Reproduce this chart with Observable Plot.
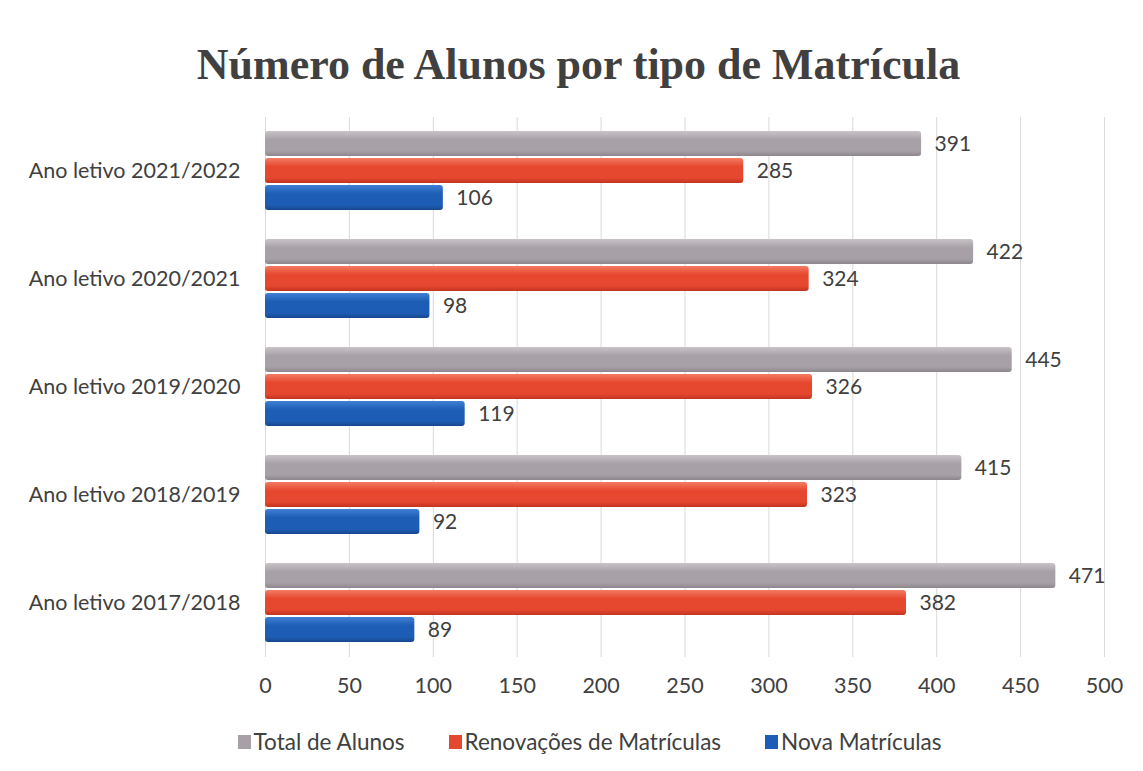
<!DOCTYPE html>
<html>
<head>
<meta charset="utf-8">
<script src="https://cdn.jsdelivr.net/npm/d3@7"></script>
<script src="https://cdn.jsdelivr.net/npm/@observablehq/plot@0.6"></script>
<style>
  html, body { margin: 0; padding: 0; background: #ffffff; }
  #wrap { width: 1143px; height: 771px; position: relative; overflow: hidden; }
  #title { height: 100px; box-sizing: border-box; padding-top: 43px; text-align: center; padding-left: 14px;
    font-family: "Liberation Serif", serif; font-weight: bold; font-size: 44px; line-height: 44px; color: #404040; }
  #legend { display: flex; justify-content: center; gap: 44px; padding-top: 18px; padding-left: 36px;
    font-family: Lato, sans-serif; font-size: 22.5px; color: #404040; }
  #legend span.item { display: flex; align-items: center; }
  #legend span.sw { display: inline-block; width: 13px; height: 14px; margin-right: 3px; }
</style>
</head>
<body>
<div id="wrap">
  <div id="title">Número de Alunos por tipo de Matrícula</div>
  <div id="chart"></div>
  <div id="legend"></div>
</div>
<script>
const categories = ["Ano letivo 2021/2022", "Ano letivo 2020/2021", "Ano letivo 2019/2020", "Ano letivo 2018/2019", "Ano letivo 2017/2018"];
const seriesNames = ["Total de Alunos", "Renovações de Matrículas", "Nova Matrículas"];
const totalAlunos = [391, 422, 445, 415, 471];
const renovacoes = [285, 324, 326, 323, 382];
const novas = [106, 98, 119, 92, 89];
const xTicks = [0, 50, 100, 150, 200, 250, 300, 350, 400, 450, 500];
const seriesColors = ["#a7a0a6", "#e6472f", "#1e5db5"];
const gradIds = ["gGray", "gRed", "gBlue"];

const seriesValues = [totalAlunos, renovacoes, novas];
const rows = [];
categories.forEach((c, i) => {
  seriesNames.forEach((s, j) => rows.push({category: c, series: s, value: seriesValues[j][i]}));
});

const marks = [Plot.gridX(xTicks, {stroke: "#d9d9d9", strokeOpacity: 1, strokeWidth: 1})];
seriesNames.forEach((s, j) => {
  marks.push(Plot.barX(rows.filter(d => d.series === s), {
    x: "value", y: "series", fy: "category", fill: `url(#${gradIds[j]})`, rx: 3
  }));
});
marks.push(Plot.text(rows, {
  x: "value", y: "series", fy: "category", text: d => String(d.value),
  dx: 13, textAnchor: "start", fill: "#404040", fontSize: 21
}));

const chart = Plot.plot({
  width: 1143,
  height: 610,
  marginLeft: 265,
  marginRight: 39,
  marginTop: 16,
  marginBottom: 53,
  style: {fontFamily: "Lato, sans-serif", fontSize: "21.5px", color: "#404040", background: "transparent"},
  x: {domain: [0, 500], ticks: xTicks, tickSize: 0, tickPadding: 20, label: null, tickFormat: d => String(d)},
  y: {domain: seriesNames, paddingInner: 0.06, paddingOuter: 0.5, axis: null},
  fy: {domain: categories, padding: 0, label: null, tickSize: 0, tickPadding: 25},
  marks
});

const ns = "http://www.w3.org/2000/svg";
const defs = document.createElementNS(ns, "defs");
const shades = [
  ["#c9c3c8", "#a7a0a6", "#8c858b"],
  ["#f47a62", "#e6472f", "#c0341f"],
  ["#3f7fd4", "#1e5db5", "#17478c"]
];
gradIds.forEach((id, j) => {
  const g = document.createElementNS(ns, "linearGradient");
  g.setAttribute("id", id);
  g.setAttribute("x1", "0"); g.setAttribute("y1", "0");
  g.setAttribute("x2", "0"); g.setAttribute("y2", "1");
  [[0, shades[j][0]], [0.35, shades[j][1]], [0.8, shades[j][1]], [1, shades[j][2]]].forEach(([o, c]) => {
    const st = document.createElementNS(ns, "stop");
    st.setAttribute("offset", o);
    st.setAttribute("stop-color", c);
    g.appendChild(st);
  });
  defs.appendChild(g);
});
chart.insertBefore(defs, chart.firstChild);
document.getElementById("chart").appendChild(chart);

const legend = document.getElementById("legend");
seriesNames.forEach((s, j) => {
  const item = document.createElement("span");
  item.className = "item";
  const sw = document.createElement("span");
  sw.className = "sw";
  sw.style.background = seriesColors[j];
  item.appendChild(sw);
  item.appendChild(document.createTextNode(s));
  legend.appendChild(item);
});
</script>
</body>
</html>
